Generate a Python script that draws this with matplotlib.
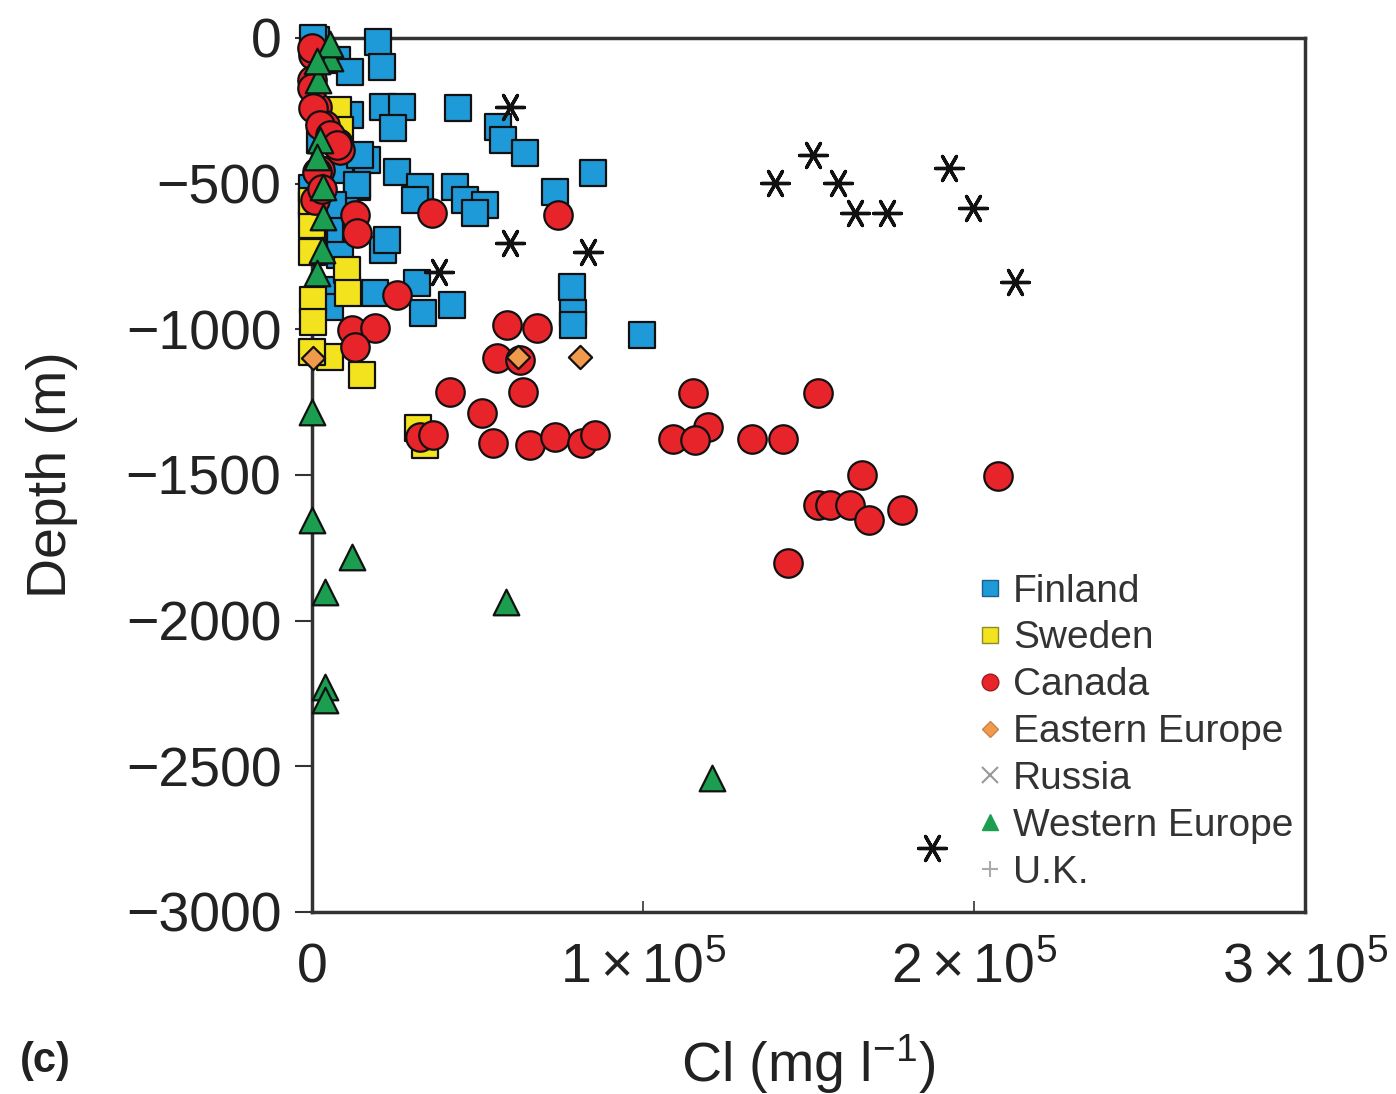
import matplotlib
matplotlib.use("Agg")
import matplotlib.pyplot as plt
from matplotlib.lines import Line2D

plt.rcParams['font.family'] = ['Liberation Sans', 'DejaVu Sans']
plt.rcParams['mathtext.fontset'] = 'custom'
plt.rcParams['mathtext.rm'] = 'Liberation Sans'
plt.rcParams['mathtext.it'] = 'Liberation Sans:italic'

# ---- data (Cl in mg/l, depth in m) ----
finland_cl = [1208, 1800, 19939, 21147, 7553, 11480, 21450, 27189, 24470, 44107, 56191, 57701,
              64347, 84890, 73410, 16616, 25679, 32627, 31116, 43200, 46221, 52263, 49242,
              13595, 500, 21450, 22658, 31721, 33533, 42294, 78546, 78848, 78848, 99693,
              10574, 19032, 2400, 5438, 9970, 5438, 8459, 2417, 6948, 5438,
              302, 11480, 14500, 0, 13595, 0, 6344, 8459]
finland_depth = [-7, -40, -14, -99, -76, -264, -237, -237, -309, -240, -305, -350,
                 -395, -463, -529, -419, -460, -511, -556, -511, -556, -573, -601,
                 -511, -522, -728, -693, -841, -944, -916, -855, -944, -985, -1019,
                 -865, -875, -607, -728, -590, -660, -453, -350, -865, -923,
                 0, -117, -402, -515, -505, -573, -573, -745]

sweden_cl = [500, 500, 10574, 10876, 302, 302, 5438, 15105, 32023, 34138, 7855, 8459, 0,
             0, 0, 0]
sweden_depth = [-635, -717, -796, -875, -899, -975, -1095, -1157, -1338, -1397, -247, -316,
                -1078, -642, -734, -560]

canada_cl = [115100, 152863, 119632, 109058, 115704, 132924, 142289, 166155, 207241, 152863,
             156488, 162530, 168270, 178239, 143800, 12990, 13595, 36252, 74317, 25679,
             12084, 19032, 12990, 58910, 67973, 55889, 62837, 41690, 63743, 51357, 32627,
             36554, 54680, 65858, 73410, 81567, 85494, 1510, 300, 7855, 2417, 0, 3927, 900, 8459,
             0, 0, 302, 2417, 5438, 7553, 1510, 3000]
canada_depth = [-1218, -1218, -1335, -1376, -1380, -1376, -1376, -1500, -1503, -1603,
                -1603, -1603, -1654, -1620, -1802, -607, -669, -601, -607, -882,
                -1002, -995, -1060, -985, -995, -1098, -1105, -1215, -1215, -1287, -1369,
                -1362, -1390, -1397, -1369, -1390, -1362, -237, -58, -360, -453, -144, -299, -556, -384,
                -34, -172, -240, -299, -333, -368, -460, -520]

eeurope_cl = [302, 62233, 80963]
eeurope_depth = [-1098, -1095, -1095]

russia_cl = [59816, 59816, 83380, 38367, 139872, 151352, 158905, 164040, 173708, 192438,
             199688, 212376, 187302]
russia_depth = [-237, -704, -734, -803, -498, -402, -498, -601, -601, -446,
                -583, -837, -2780]

weurope_cl = [0, 0, 12084, 3927, 58608, 3927, 3927, 120840, 5438, 1813, 2417, 1510, 3323,
              3323, 3021, 1510, 5438, 1500]
weurope_depth = [-1283, -1654, -1781, -1901, -1935, -2227, -2272, -2540, -69, -144, -350,
                 -408, -511, -614, -728, -807, -20, -80]

uk_cl = [500, 800]
uk_depth = [-300, -700]

legend_labels = ['Finland', 'Sweden', 'Canada', 'Eastern Europe', 'Russia',
                 'Western Europe', 'U.K.']
x_ticks = [0, 100000, 200000, 300000]
x_ticklabels = ['0', r'$\mathregular{1\times10^5}$', r'$\mathregular{2\times10^5}$',
                r'$\mathregular{3\times10^5}$']
y_ticks = [0, -500, -1000, -1500, -2000, -2500, -3000]

c_fin = '#1f9ad8'
c_swe = '#f3e31f'
c_can = '#e8242b'
c_eeu = '#f19a4c'
c_weu = '#1b9e50'

fig = plt.figure(figsize=(13.96, 10.94), dpi=100)
ax = fig.add_axes([0.2235, 0.1664, 0.7113, 0.7989])

ek = dict(edgecolors='#111111', linewidths=1.6, clip_on=False)
ax.scatter(finland_cl, finland_depth, marker='s', s=340, c=c_fin, **ek, zorder=3)
ax.scatter(sweden_cl, sweden_depth, marker='s', s=340, c=c_swe, **ek, zorder=3)
ax.scatter(canada_cl, canada_depth, marker='o', s=420, c=c_can, **ek, zorder=3)
ax.scatter(eeurope_cl, eeurope_depth, marker='D', s=140, c=c_eeu, **ek, zorder=3)
ax.scatter(russia_cl, russia_depth, marker=(6, 2, 90), s=400, c='#111111',
           linewidths=2.4, zorder=3, clip_on=False)
ax.scatter(weurope_cl, weurope_depth, marker='^', s=340, c=c_weu, **ek, zorder=3)
ax.scatter(uk_cl, uk_depth, marker='+', s=150, c='#aaaaaa', linewidths=1.5, zorder=2,
           clip_on=False)

ax.set_xlim(0, 300000)
ax.set_ylim(-3000, 0)
ax.set_xticks(x_ticks)
ax.set_xticklabels(x_ticklabels)
ax.set_yticks(y_ticks)
ax.set_yticklabels([str(v).replace('-', '\u2212') for v in y_ticks])
ax.tick_params(axis='x', direction='in', length=8, width=1.2, pad=22, labelsize=40,
               colors='#333333', labelcolor='#222222')
ax.tick_params(axis='y', direction='out', length=12, width=1.5, pad=10, labelsize=40,
               colors='#333333', labelcolor='#222222')
for sp in ax.spines.values():
    sp.set_linewidth(2.5)
    sp.set_color('#333333')

ax.set_ylabel('Depth (m)', fontsize=40, color='#222222', labelpad=34)
ax.set_xlabel(r'Cl (mg l$^{\mathregular{-1}}$)', fontsize=40, color='#222222', labelpad=27)
fig.text(0.014, 0.030, '(c)', fontsize=30, fontweight='bold', color='#222222', va='center')

handles = [
    Line2D([], [], ls='none', marker='s', ms=11, mfc=c_fin, mec='#1a5f88', mew=1),
    Line2D([], [], ls='none', marker='s', ms=11, mfc=c_swe, mec='#8d8a2a', mew=1),
    Line2D([], [], ls='none', marker='o', ms=12, mfc=c_can, mec='#a01a1e', mew=1),
    Line2D([], [], ls='none', marker='D', ms=8, mfc=c_eeu, mec='#c7844e', mew=1),
    Line2D([], [], ls='none', marker='x', ms=12, mec='#999999', mew=1.5),
    Line2D([], [], ls='none', marker='^', ms=12, mfc=c_weu, mec=c_weu, mew=1),
    Line2D([], [], ls='none', marker='+', ms=12, mec='#aaaaaa', mew=1.5),
]
leg = ax.legend(handles, legend_labels, loc='upper left', bbox_to_anchor=(0.655, 0.405),
                frameon=False, fontsize=28, handlelength=0.6, handletextpad=0.3,
                labelspacing=0.28, borderaxespad=0)
for t in leg.get_texts():
    t.set_color('#333333')

fig.savefig('out.png', dpi=100)
